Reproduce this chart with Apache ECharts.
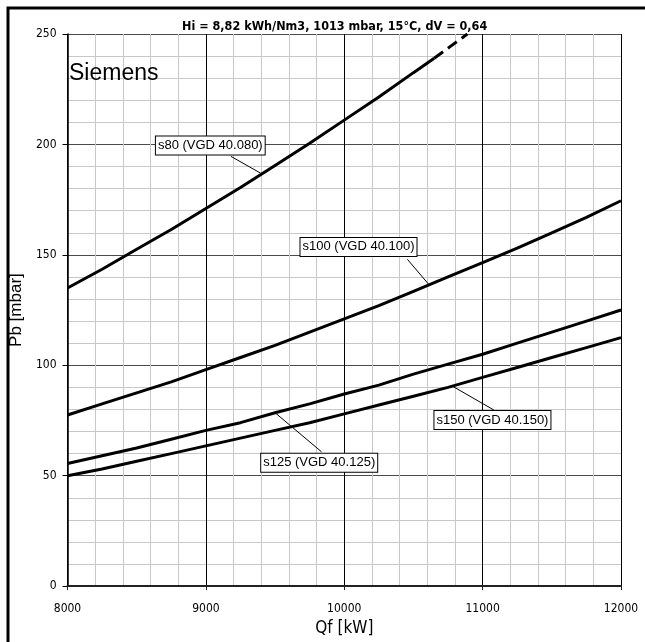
<!DOCTYPE html>
<html>
<head>
<meta charset="utf-8">
<script src="https://cdn.jsdelivr.net/npm/echarts@6/dist/echarts.min.js"></script>
<style>
  html, body { margin: 0; padding: 0; background: #fff; }
  #main { width: 645px; height: 642px; }
</style>
</head>
<body>
<div id="main"></div>
<script>
// Qf [kW] sample points
let qf = [8000, 8250, 8500, 8750, 9000, 9250, 9500, 9750, 10000, 10250, 10500, 10750, 11000, 11250, 11500, 11750, 12000]
let s100 = [77.5, 82.5, 87.5, 92.5, 98, 103.5, 109, 115, 121, 127, 133.5, 140, 146.5, 153, 160, 167, 174.5]
let s125 = [55.5, 59, 62.5, 66.5, 70.5, 74, 78.5, 82.5, 87, 91, 96, 100.5, 105, 110, 115, 120, 125]
let s150 = [50, 53, 56.5, 60, 63.5, 67, 70.5, 74, 78, 82, 86, 90, 94.5, 99, 103.5, 108, 112.5]
// s80 is solid up to ~10650 kW, dashed above
let s80Qf = [8000, 8250, 8500, 8750, 9000, 9250, 9500, 9750, 10000, 10250, 10500, 10650]
let s80 = [135, 143.5, 152.5, 161.5, 171, 180.5, 190.5, 200.5, 211, 221.5, 232.5, 239]
let s80DashQf = [10650, 10770, 10890]
let s80Dash = [239, 244.5, 250]

let seriesNames = ['s80 (VGD 40.080)', 's100 (VGD 40.100)', 's125 (VGD 40.125)', 's150 (VGD 40.150)']
let xTicks = [8000, 9000, 10000, 11000, 12000]
let yTicks = [0, 50, 100, 150, 200, 250]

// label boxes (centre, in data units) and leader lines: [box end, curve end]
let labelAt = [[9032, 199.5], [10103, 153.6], [9819, 55.9], [11071, 75.2]]
let leaders = [
  [[9181, 194.6], [9395, 187]],
  [[10456, 148], [10619, 136]],
  [[9836, 60.8], [9502, 78.4]],
  [[11082, 79.7], [10783, 90.5]]
]

function pairs (xs, ys) {
  return xs.map(function (x, i) { return [x, ys[i]] })
}

let narrow = '"Liberation Sans Narrow", "DejaVu Sans Condensed", "Liberation Sans", sans-serif'

function curve (name, data, idx, dashed) {
  let s = {
    name: name,
    type: 'line',
    data: data,
    symbol: 'none',
    lineStyle: { color: '#000', width: 3, type: dashed ? [11, 6] : 'solid' },
    z: 3
  }
  if (idx >= 0) {
    s.markLine = {
      silent: true,
      symbol: 'none',
      label: { show: false },
      lineStyle: { color: '#000', width: 1, type: 'solid' },
      data: [[{ coord: leaders[idx][0] }, { coord: leaders[idx][1] }]]
    }
    s.markPoint = {
      silent: true,
      symbol: 'rect',
      symbolSize: 1,
      itemStyle: { color: 'rgba(0,0,0,0)' },
      label: {
        show: true,
        position: 'inside',
        formatter: name,
        color: '#000',
        fontFamily: '"Liberation Sans", Arial, sans-serif',
        fontSize: 13,
        backgroundColor: '#fff',
        borderColor: '#000',
        borderWidth: 1,
        padding: [3, 2, 2, 2]
      },
      data: [{ coord: labelAt[idx] }]
    }
  }
  return s
}

let myChart = echarts.init(document.getElementById('main'), null, { renderer: 'canvas' })
let option = {
  animation: false,
  backgroundColor: '#fff',
  title: [
    {
      text: 'Hi = 8,82 kWh/Nm3, 1013 mbar, 15°C, dV = 0,64',
      left: 177,
      top: 15,
      textStyle: { fontFamily: narrow, fontWeight: 'bold', fontSize: 12.5, color: '#000' }
    },
    {
      text: 'Siemens',
      left: 64,
      top: 57,
      textStyle: { fontFamily: '"Liberation Sans", Arial, sans-serif', fontWeight: 'normal', fontSize: 23, color: '#000' }
    }
  ],
  graphic: [
    {
      type: 'rect',
      shape: { x: 8, y: 8, width: 800, height: 800 },
      style: { fill: 'none', stroke: '#000', lineWidth: 3 },
      silent: true
    }
  ],
  grid: { left: 59, right: 24, top: 34, bottom: 53 },
  xAxis: {
    type: 'value',
    min: xTicks[0],
    max: xTicks[xTicks.length - 1],
    interval: 1000,
    name: 'Qf [kW]',
    nameLocation: 'middle',
    nameGap: 31,
    nameTextStyle: { fontFamily: narrow, fontSize: 17, color: '#000' },
    axisLine: { lineStyle: { color: '#222', width: 2 } },
    axisTick: { show: true, length: 4, lineStyle: { color: '#222' } },
    axisLabel: { margin: 17, fontFamily: narrow, fontSize: 12, color: '#000', formatter: function (v) { return String(v) } },
    splitLine: { show: true, lineStyle: { color: '#000', width: 1 } },
    minorTick: { show: false, splitNumber: 5 },
    minorSplitLine: { show: true, lineStyle: { color: '#c8c8c8', width: 1 } }
  },
  yAxis: {
    type: 'value',
    min: yTicks[0],
    max: yTicks[yTicks.length - 1],
    interval: 50,
    name: 'Pb [mbar]',
    nameLocation: 'middle',
    nameGap: 25,
    nameTextStyle: { fontFamily: '"Liberation Sans", Arial, sans-serif', fontSize: 17, color: '#000' },
    axisLine: { show: true, lineStyle: { color: '#000', width: 1.5 } },
    axisTick: { show: true, length: 5, lineStyle: { color: '#000' } },
    axisLabel: { margin: 11, fontFamily: narrow, fontSize: 12, color: '#000', formatter: function (v) { return String(v) } },
    splitLine: { show: true, lineStyle: { color: '#4a4a4a', width: 1 } },
    minorTick: { show: false, splitNumber: 5 },
    minorSplitLine: { show: true, lineStyle: { color: '#c8c8c8', width: 1 } }
  },
  series: [
    curve(seriesNames[0], pairs(s80Qf, s80), 0, false),
    curve(seriesNames[0] + ' ', pairs(s80DashQf, s80Dash), -1, true),
    curve(seriesNames[1], pairs(qf, s100), 1, false),
    curve(seriesNames[2], pairs(qf, s125), 2, false),
    curve(seriesNames[3], pairs(qf, s150), 3, false)
  ]
}
myChart.setOption(option)
</script>
</body>
</html>
